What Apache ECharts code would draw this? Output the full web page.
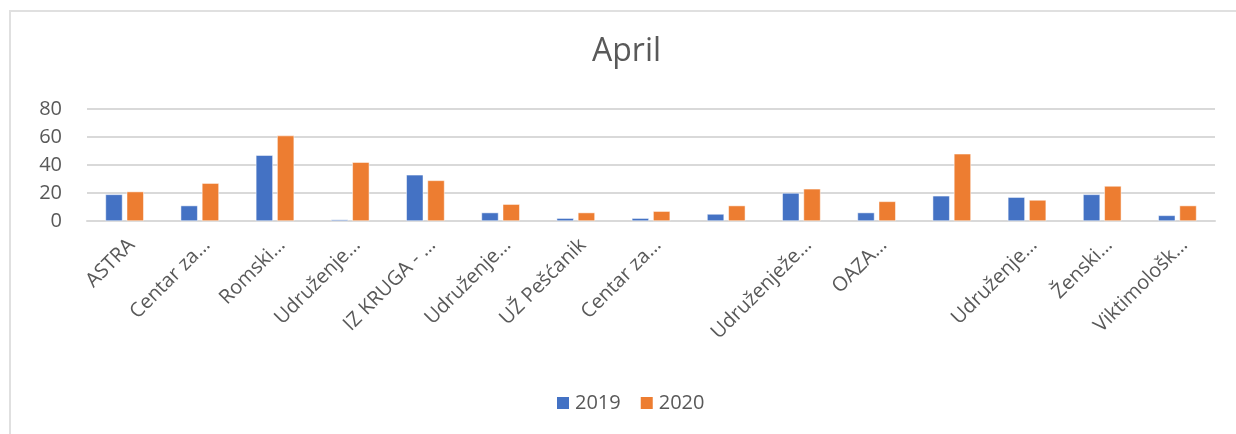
<!DOCTYPE html>
<html>
<head>
<meta charset="utf-8">
<script src="https://cdn.jsdelivr.net/npm/echarts@6/dist/echarts.min.js"></script>
<style>
  html, body { margin: 0; padding: 0; background: #fff; overflow: hidden; }
  #chart { position: absolute; left: 0; top: 0; width: 1236px; height: 434px; }
  #frame { position: absolute; left: 9px; top: 10px; width: 1400px; height: 600px;
           border: 2px solid #e0e0e0; box-sizing: border-box; pointer-events: none; }
</style>
</head>
<body>
<div id="chart"></div>
<div id="frame"></div>
<script>
const categories = ['ASTRA', 'Centar za…', 'Romski…', 'Udruženje…', 'IZ KRUGA - …', 'Udruženje…',
  'UŽ Pešćanik', 'Centar za…', '', 'Udruženježe…', 'OAZA…', '', 'Udruženje…', 'Ženski…', 'Viktimološk…'];
const values2019 = [19, 11, 47, 1, 33, 6, 2, 2, 5, 20, 6, 18, 17, 19, 4];
const values2020 = [21, 27, 61, 42, 29, 12, 6, 7, 11, 23, 14, 48, 15, 25, 11];
const yTicks = [0, 20, 40, 60, 80];

const font = 'Open Sans';
const textColor = '#595959';
const chart = echarts.init(document.getElementById('chart'));
chart.setOption({
  animation: false,
  title: {
    text: 'April', left: 587, top: 31,
    textStyle: { fontFamily: font, fontSize: 32, fontWeight: 'normal', color: textColor }
  },
  legend: {
    data: ['2019', '2020'], left: 550, top: 388,
    itemWidth: 14, itemHeight: 14, itemGap: 18, icon: 'rect',
    textStyle: { fontFamily: font, fontSize: 20, color: textColor }
  },
  grid: { left: 87, right: 21, top: 109, bottom: 213, containLabel: false },
  xAxis: {
    type: 'category', data: categories,
    axisLine: { lineStyle: { color: '#d9d9d9', width: 2 } },
    axisTick: { show: false },
    axisLabel: { interval: 0, rotate: 45, margin: 14, align: 'right', verticalAlign: 'top',
      fontFamily: font, fontSize: 20, color: textColor }
  },
  yAxis: {
    type: 'value', min: yTicks[0], max: yTicks[yTicks.length - 1], interval: 20,
    axisLine: { show: false }, axisTick: { show: false },
    splitLine: { lineStyle: { color: '#d9d9d9', width: 2 } },
    axisLabel: { margin: 25, fontFamily: font, fontSize: 20, color: textColor }
  },
  series: [
    { name: '2019', type: 'bar', data: values2019, barWidth: 17, barGap: '25%',
      itemStyle: { color: '#4472C4', borderColor: '#ffffff', borderWidth: 0.5 } },
    { name: '2020', type: 'bar', data: values2020, barWidth: 17, barGap: '25%',
      itemStyle: { color: '#ED7D31', borderColor: '#ffffff', borderWidth: 0.5 } }
  ]
});
</script>
</body>
</html>
